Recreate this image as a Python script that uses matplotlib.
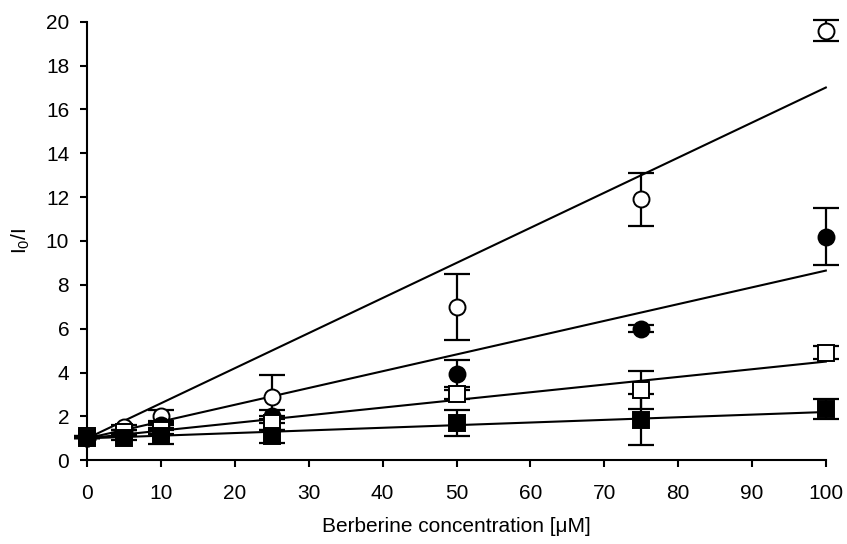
import matplotlib
matplotlib.use("Agg")
import matplotlib.pyplot as plt
import numpy as np

plt.rcParams['font.family'] = ['Liberation Sans', 'DejaVu Sans']
plt.rcParams['mathtext.fontset'] = 'custom'
plt.rcParams['mathtext.rm'] = 'Liberation Sans'
plt.rcParams['mathtext.it'] = 'Liberation Sans'

conc = [0, 5, 10, 25, 50, 75, 100]

open_circle = [1.0, 1.5, 2.0, 2.9, 7.0, 11.9, 19.6]
open_circle_err = [0.0, 0.1, 0.3, 1.0, 1.5, 1.2, 0.5]

filled_circle = [1.0, 1.3, 1.6, 2.0, 3.95, 6.0, 10.2]
filled_circle_err = [0.0, 0.1, 0.2, 0.3, 0.6, 0.15, 1.3]

open_square = [1.1, 1.3, 1.4, 1.7, 3.0, 3.2, 4.9]
open_square_err = [0.0, 0.1, 0.2, 0.3, 0.2, 0.85, 0.3]

filled_square = [1.0, 1.0, 1.1, 1.1, 1.7, 1.85, 2.35]
filled_square_err = [0.0, 0.1, 0.35, 0.3, 0.6, 1.15, 0.45]

fit_intercept = 1.0
fit_slopes = [0.16, 0.0765, 0.035, 0.012]
fit_x = [0, 100]

xticks = list(range(0, 101, 10))
yticks = list(range(0, 21, 2))

fig = plt.figure(figsize=(8.47, 5.44), dpi=100)
ax = fig.add_axes([0.103, 0.154, 0.872, 0.806])

series = [
    (open_circle, open_circle_err, 'o', 'white'),
    (filled_circle, filled_circle_err, 'o', 'black'),
    (open_square, open_square_err, 's', 'white'),
    (filled_square, filled_square_err, 's', 'black'),
]

for vals, err, m, fc in series:
    ax.errorbar(conc, vals, yerr=err, fmt='none', ecolor='black', elinewidth=1.6,
                capsize=9.5, capthick=1.6, clip_on=False, zorder=2)

for s in fit_slopes:
    fy = [fit_intercept + s * xv for xv in fit_x]
    ax.plot(fit_x, fy, color='black', lw=1.5, zorder=3, clip_on=False)

for vals, err, m, fc in series:
    ax.plot(conc, vals, linestyle='none', marker=m, markersize=11.5,
            markerfacecolor=fc, markeredgecolor='black', markeredgewidth=1.4,
            zorder=4, clip_on=False)

ax.set_xlim(0, 100)
ax.set_ylim(0, 20)
ax.set_xticks(xticks)
ax.set_yticks(yticks)
ax.spines['top'].set_visible(False)
ax.spines['right'].set_visible(False)
for sp in ['left', 'bottom']:
    ax.spines[sp].set_linewidth(1.5)
ax.tick_params(direction='out', length=5, width=1.5, labelsize=15)
ax.tick_params(axis='x', pad=12)
ax.tick_params(axis='y', pad=8)
ax.set_xlabel('Berberine concentration [\u03bcM]', fontsize=15, labelpad=10)
ax.set_ylabel(r'I$_0$/I', fontsize=15, labelpad=10)

fig.savefig('out.png', dpi=100)
